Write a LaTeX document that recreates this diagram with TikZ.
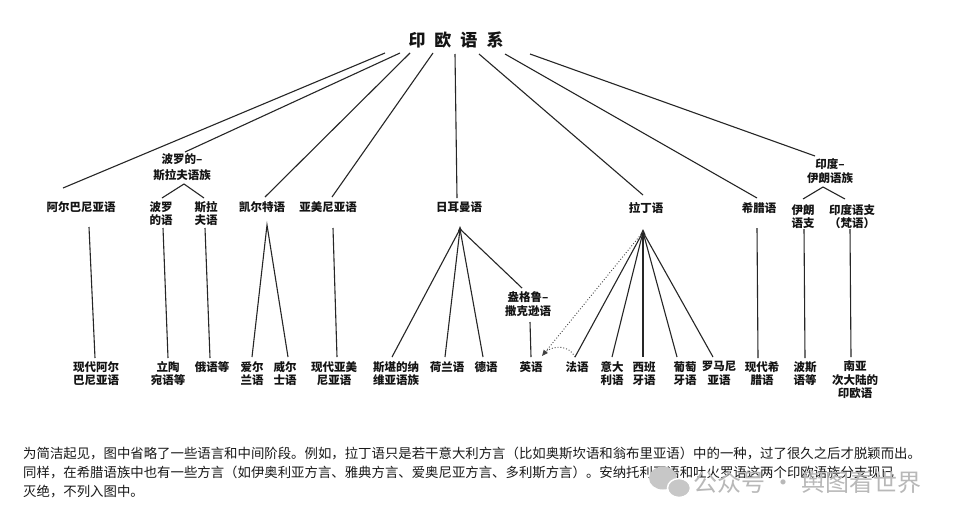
\documentclass[tikz,border=0pt]{standalone}
\usepackage{fontspec}
\newfontfamily\cjk{Noto Sans CJK SC}
\usetikzlibrary{arrows.meta}
\begin{document}
\begin{tikzpicture}[x=1pt,y=-1pt,
  lbl/.style={font=\cjk\bfseries\fontsize{11.5}{13.5}\selectfont, inner sep=0, align=center, text=black!92},
  leaf/.style={lbl, anchor=north},
  ln/.style={line width=1.1pt, draw=black!85},
  infl/.style={dotted, line width=0.9pt, draw=black!75},
  fn/.style={font=\cjk\fontsize{13.4}{16}\selectfont, inner sep=0, text=black!90, anchor=base west},
  apex/.style={fill=black!85}
]
\useasboundingbox (0,0) rectangle (960,517);
\fill[white] (0,0) rectangle (960,517);

% root
\node[font=\cjk\bfseries\fontsize{17}{20}\selectfont, inner sep=0, text=black!92] (root) at (456,40) {印\hspace{9pt}欧\hspace{9pt}语\hspace{9pt}系};
\coordinate (f1) at (385,53);
\coordinate (f2) at (400,53);
\coordinate (f3) at (410,53);
\coordinate (f4) at (433,53);
\coordinate (f5) at (455,54);
\coordinate (f6) at (479,54);
\coordinate (f7) at (505,54);
\coordinate (f8) at (530,54);

% level 2
\node[lbl] (alb) at (81,207) {阿尔巴尼亚语};
\node[lbl, font=\cjk\bfseries\fontsize{11.5}{16}\selectfont] (bs) at (182,167) {波罗的–\\斯拉夫语族};
\node[lbl] (bal) at (161,213.5) {波罗\\的语};
\node[lbl] (sla) at (206,213.5) {斯拉\\夫语};
\node[lbl] (celt) at (262,207) {凯尔特语};
\node[lbl] (arm) at (328,207) {亚美尼亚语};
\node[lbl] (germ) at (459,207) {日耳曼语};
\node[lbl] (lat) at (646,208) {拉丁语};
\node[lbl] (grk) at (759,208) {希腊语};
\node[lbl, font=\cjk\bfseries\fontsize{11.5}{14}\selectfont] (ii) at (830,171) {印度–\\伊朗语族};
\node[lbl] (ir) at (803,216.5) {伊朗\\语支};
\node[lbl] (ind) at (852,216.5) {印度语支\\（梵语）};
\node[lbl] (ang) at (528,304) {盎格鲁–\\撒克逊语};

% level 3
\node[leaf] (malb) at (96,361) {现代阿尔\\巴尼亚语};
\node[leaf] (lit) at (168,361) {立陶\\宛语等};
\node[leaf] (rus) at (212,361) {俄语等};
\node[leaf] (iri) at (252,361) {爱尔\\兰语};
\node[leaf] (wel) at (285,361) {威尔\\士语};
\node[leaf] (marm) at (334,361) {现代亚美\\尼亚语};
\node[leaf] (sca) at (396,361) {斯堪的纳\\维亚语族};
\node[leaf] (dut) at (447,361) {荷兰语};
\node[leaf] (ger) at (486,361) {德语};
\node[leaf] (eng) at (531,361) {英语};
\node[leaf] (fre) at (577,361) {法语};
\node[leaf] (ita) at (612,361) {意大\\利语};
\node[leaf] (spa) at (644,361) {西班\\牙语};
\node[leaf] (por) at (685,361) {葡萄\\牙语};
\node[leaf] (rom) at (719,361) {罗马尼\\亚语};
\node[leaf] (mgr) at (762,361) {现代希\\腊语};
\node[leaf] (per) at (805,361) {波斯\\语等};
\node[leaf] (sas) at (855,361) {南亚\\次大陆的\\印欧语};

% connector end points
\coordinate (alb-n) at (63,188);
\coordinate (bs-n) at (185,152);
\coordinate (celt-n) at (265,197);
\coordinate (arm-n) at (332,197);
\coordinate (germ-n) at (457,198);
\coordinate (lat-n) at (643,195);
\coordinate (grk-n) at (757,198);
\coordinate (ii-n) at (815,156);

\coordinate (bs-s) at (184,184);
\coordinate (bal-n) at (162,198);
\coordinate (sla-n) at (204,198);
\coordinate (ii-s) at (823,187);
\coordinate (ir-n) at (803,199);
\coordinate (ind-n) at (845,199);

\coordinate (alb-s) at (89,227);
\coordinate (bal-s) at (163,228);
\coordinate (sla-s) at (205,228);
\coordinate (celt-s) at (267,225);
\coordinate (arm-s) at (333,228);
\coordinate (germ-s) at (460,229);
\coordinate (ang-n) at (522,288);
\coordinate (ang-s) at (530,322);
\coordinate (lat-s) at (643,232);
\coordinate (grk-s) at (757,228);
\coordinate (ir-s) at (804,229);
\coordinate (ind-s) at (850,229);

\coordinate (malb-n) at (95,358);
\coordinate (lit-n) at (168,358);
\coordinate (rus-n) at (210,358);
\coordinate (iri-n) at (252,357);
\coordinate (wel-n) at (288,357);
\coordinate (marm-n) at (337,357);
\coordinate (sca-n) at (392,357);
\coordinate (dut-n) at (445,357);
\coordinate (ger-n) at (483,357);
\coordinate (eng-n) at (531,357);
\coordinate (eng-ne) at (542,356);
\coordinate (fre-n) at (575,357);
\coordinate (ita-n) at (612,357);
\coordinate (spa-n) at (643,357);
\coordinate (por-n) at (677,357);
\coordinate (rom-n) at (713,357);
\coordinate (mgr-n) at (758,358);
\coordinate (per-n) at (805,358);
\coordinate (sas-n) at (851,357);

% root fan
\draw[ln] (f1) -- (alb-n);
\draw[ln] (f2) -- (bs-n);
\draw[ln] (f3) -- (celt-n);
\draw[ln] (f4) -- (arm-n);
\draw[ln] (f5) -- (germ-n);
\draw[ln] (f6) -- (lat-n);
\draw[ln] (f7) -- (grk-n);
\draw[ln] (f8) -- (ii-n);

% sub-family splits
\draw[ln] (bal-n) -- (bs-s) -- (sla-n);
\draw[ln] (ir-n) -- (ii-s) -- (ind-n);

% to modern languages
\draw[ln] (alb-s) -- (malb-n);
\draw[ln] (bal-s) -- (lit-n);
\draw[ln] (sla-s) -- (rus-n);
\draw[ln] (iri-n) -- (celt-s) -- (wel-n);
\draw[ln] (arm-s) -- (marm-n);
\draw[ln] (germ-s) -- (sca-n);
\draw[ln] (germ-s) -- (dut-n);
\draw[ln] (germ-s) -- (ger-n);
\draw[ln] (germ-s) -- (ang-n);
\draw[ln] (ang-s) -- (eng-n);
\draw[ln] (lat-s) -- (fre-n);
\draw[ln] (lat-s) -- (ita-n);
\draw[ln] (lat-s) -- (spa-n);
\draw[ln] (lat-s) -- (por-n);
\draw[ln] (lat-s) -- (rom-n);
\draw[ln] (grk-s) -- (mgr-n);
\draw[ln] (ir-s) -- (per-n);
\draw[ln] (ind-s) -- (sas-n);

% apex marks
\fill[apex] (460,226) -- (458,231) -- (462,231) -- cycle;
\fill[apex] (643,229) -- (640.5,234.5) -- (645.5,234.5) -- cycle;

% influences on English
\draw[infl, -{Triangle[length=6pt,width=5pt]}] (lat-s) -- (eng-ne);
\draw[infl] (fre-n) .. controls (569,345) and (554,345) .. (545,352);

% footnote
\node[fn] (n1) at (23,458) {为简洁起见，图中省略了一些语言和中间阶段。例如，拉丁语只是若干意大利方言（比如奥斯坎语和翁布里亚语）中的一种，过了很久之后才脱颖而出。};
\node[fn] (n2) at (23,477) {同样，在希腊语族中也有一些方言（如伊奥利亚方言、雅典方言、爱奥尼亚方言、多利斯方言）。安纳托利亚语和吐火罗语这两个印欧语族分支现已};
\node[fn] (n3) at (23,496) {灭绝，不列入图中。};

% watermark
\fill[black!22] (663,478) ellipse (14 and 11.5);
\filldraw[fill=black!22, draw=white, line width=1.5pt] (679,488) ellipse (11.5 and 9.5);
\node[font=\cjk\fontsize{24}{26}\selectfont, text=black!28, anchor=west, inner sep=0] (wm) at (693,482) {公众号\hspace{6pt}·\hspace{6pt}舆图看世界};
\end{tikzpicture}
\end{document}
